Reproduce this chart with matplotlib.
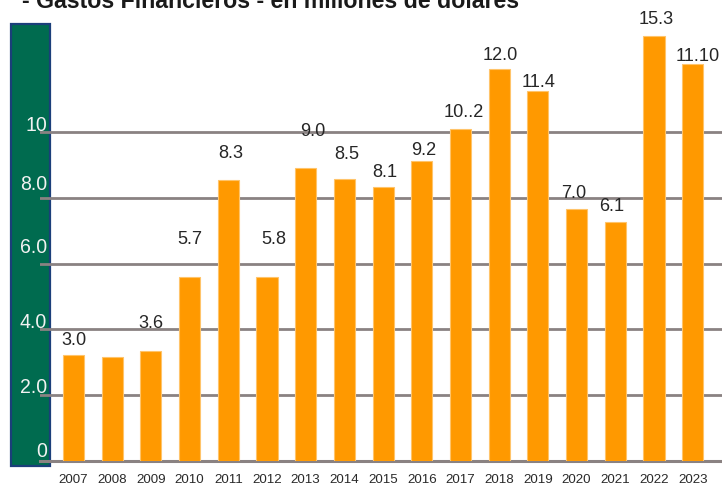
import matplotlib
matplotlib.use("Agg")
import matplotlib.pyplot as plt
from matplotlib import font_manager
from matplotlib.patches import Rectangle

# ---- data ----
years = ["2007", "2008", "2009", "2010", "2011", "2012", "2013", "2014", "2015",
         "2016", "2017", "2018", "2019", "2020", "2021", "2022", "2023"]
bar_heights = [3.21, 3.17, 3.33, 5.59, 8.56, 5.59, 8.92, 8.57, 8.33,
               9.12, 10.10, 11.93, 11.25, 7.66, 7.28, 12.92, 12.08]
value_labels = ["3.0", "", "3.6", "5.7", "8.3", "5.8", "9.0", "8.5", "8.1",
                "9.2", "10..2", "12.0", "11.4", "7.0", "6.1", "15.3", "11.10"]
tick_values = [0, 2, 4, 6, 8, 10]
tick_labels = ["0", "2.0", "4.0", "6.0", "8.0", "10"]
title = "- Gastos Financieros - en millones de dolares"

# ---- layout / style (not data) ----
label_dy = [16, 0, 29, 39, 27, 39, 37, 26, 16, 12, 18, 14, 10, 17, 16, 18, 8]
label_dx = [0, 0, 0, 0, 2, 7, 7, 2, 2, 2, 3, 1, 1, -3, -4, 2, 5]
tick_dy = [10, 9, 8, 17, 14, 8]

names = {f.name for f in font_manager.fontManager.ttflist}
narrow = "Liberation Sans Narrow" if "Liberation Sans Narrow" in names else None
if narrow:
    nfam = [narrow, "DejaVu Sans"]
    k = 1.0
    kt = 1.0
else:
    nfam = ["Liberation Sans", "DejaVu Sans"]
    k = 0.84
    kt = 0.88

W, H = 722, 485
fig = plt.figure(figsize=(W / 100, H / 100), dpi=100)
fig.patch.set_facecolor("white")

# green box on the left
fig.patches.append(Rectangle((11 / W, (H - 467) / H), 39 / W, 442 / H,
                             transform=fig.transFigure, facecolor="#006B4F",
                             edgecolor="#1B3F7A", linewidth=1.6, zorder=-5))

base_px = 461.7
ppu = 32.84
top_px = 25
ax_left, ax_right = 40, 722
spacing = 38.7
c0 = 73.5
ax = fig.add_axes([ax_left / W, (H - base_px) / H, (ax_right - ax_left) / W,
                   (base_px - top_px) / H])
ax.set_zorder(1)
ax.set_facecolor("none")
ax.set_xlim((ax_left - c0) / spacing, (ax_right - c0) / spacing)
ax.set_ylim(0, (base_px - top_px) / ppu)

x = list(range(len(years)))
ax.bar(x, bar_heights, width=0.545, color="#FF9900", edgecolor="#FFC46A",
       linewidth=0.8, zorder=3)

ax.set_axisbelow(True)
ax.set_yticks(tick_values)
ax.yaxis.grid(True, color="#8A8282", linewidth=2.0)
ax.axhline(0, color="#8A8282", linewidth=2.2, clip_on=False, zorder=2)
ax.tick_params(axis="y", length=0, labelleft=False)
ax.set_xticks(x)
ax.set_xticklabels(years, fontsize=11.5 * k, family=nfam, color="#2a2a2a")
ax.tick_params(axis="x", length=0, pad=9)
for s in ax.spines.values():
    s.set_visible(False)

for xi, h, lab, dx, dy in zip(x, bar_heights, value_labels, label_dx, label_dy):
    if lab:
        ax.annotate(lab, (xi, h), xytext=(dx, dy), textcoords="offset pixels",
                    ha="center", va="center", fontsize=15.5 * k, family=nfam,
                    color="#262626", zorder=5)

for v, lab, dy in zip(tick_values, tick_labels, tick_dy):
    ax.annotate(lab, (0, v), xycoords=("figure fraction", "data"),
                xytext=(47, dy), textcoords="offset pixels", ha="right",
                va="center", fontsize=16 * kt, family=nfam, color="#F2F2F2",
                annotation_clip=False, zorder=6)

fig.text(22 / W, 1 - 8 / H, title, ha="left", va="baseline", fontsize=16.7,
         fontweight="bold", family=["Liberation Sans", "DejaVu Sans"],
         color="#1a1a1a")

fig.savefig("out.png", dpi=100)
